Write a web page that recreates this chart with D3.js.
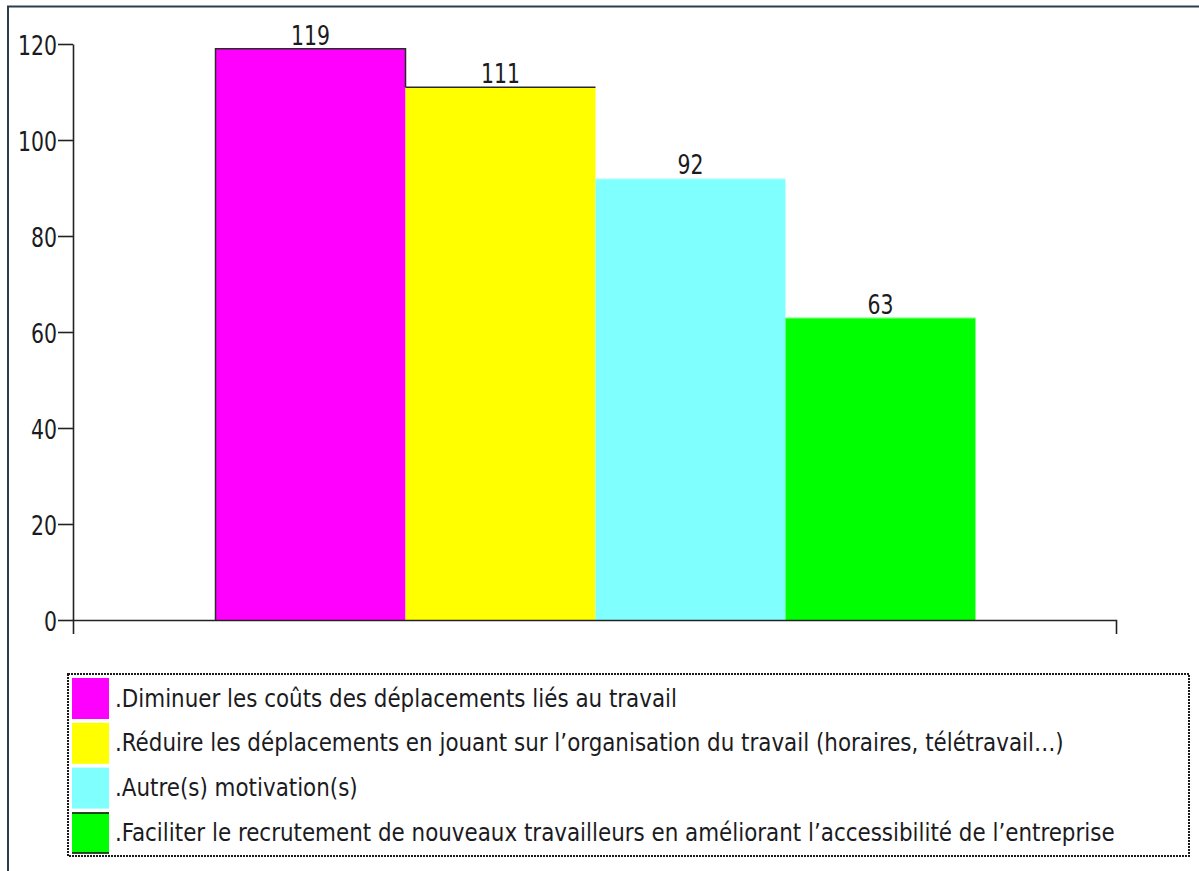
<!DOCTYPE html>
<html><head><meta charset="utf-8">
<script src="https://cdn.jsdelivr.net/npm/d3@7"></script>
<style>
body{margin:0;background:#fff}
svg{display:block}
text{font-family:"DejaVu Sans",Tahoma,Verdana,sans-serif;font-stretch:condensed;fill:#1b1b22}
</style>
</head><body>
<svg id="c" width="1199" height="871"></svg>
<script>
// ---- data ----
const categories = ["Motivations"];
const seriesNames = [
  ".Diminuer les coûts des déplacements liés au travail",
  ".Réduire les déplacements en jouant sur l’organisation du travail (horaires, télétravail…)",
  ".Autre(s) motivation(s)",
  ".Faciliter le recrutement de nouveaux travailleurs en améliorant l’accessibilité de l’entreprise"
];
const seriesValues = [119, 111, 92, 63];
const yTicks = [0, 20, 40, 60, 80, 100, 120];
const seriesColors = ["#ff00ff", "#ffff00", "#80ffff", "#00ff00"];

// ---- layout ----
const svg = d3.select("#c");
const L = 73, R = 1116, T = 44, B = 620;

// outer frame
svg.append("rect").attr("x", 8).attr("y", 6.5).attr("width", 1400).attr("height", 1000)
  .attr("fill", "none").attr("stroke", "#2c3e4c").attr("stroke-width", 2);

const y = d3.scaleLinear().domain([0, 120]).range([B, T]);
const x0 = d3.scaleBand().domain(categories).range([L + 1, R + 1]).paddingInner(0).paddingOuter(0.1862);
const x1 = d3.scaleBand().domain(seriesNames).range([0, x0.bandwidth()]).padding(0);
const color = d3.scaleOrdinal().domain(seriesNames).range(seriesColors);

const bars = seriesNames.map((s, i) => ({name: s, value: seriesValues[i], cat: categories[0]}));

// bars
const g = svg.append("g");
g.selectAll("rect.bar").data(bars).join("rect").attr("class", "bar")
  .attr("x", d => x0(d.cat) + x1(d.name))
  .attr("y", d => y(d.value))
  .attr("width", x1.bandwidth())
  .attr("height", d => B - y(d.value))
  .attr("fill", d => color(d.name));

// edges of the first two bars (dark outline), lighter top for the others
bars.forEach((d, i) => {
  const bx = x0(d.cat) + x1(d.name), bw = x1.bandwidth(), by = y(d.value);
  if (i === 0) {
    g.append("path").attr("d", `M${bx},${B} V${by} H${bx + bw} V${y(bars[1].value)}`)
      .attr("fill", "none").attr("stroke", "#2a2a2a").attr("stroke-width", 1.5);
  } else if (i === 1) {
    g.append("path").attr("d", `M${bx},${by} H${bx + bw}`)
      .attr("fill", "none").attr("stroke", "#2a2a2a").attr("stroke-width", 1.5);
  } else {
    g.append("path").attr("d", `M${bx},${by + 0.5} H${bx + bw}`)
      .attr("fill", "none").attr("stroke", "#ffffff").attr("stroke-opacity", 0.5).attr("stroke-width", 1);
  }
});

// axes
const yAxis = svg.append("g").attr("transform", `translate(${L},0)`)
  .call(d3.axisLeft(y).tickValues(yTicks).tickSize(15).tickSizeOuter(0).tickPadding(1));
const xLin = d3.scaleLinear().range([L, R]);
const xAxis = svg.append("g").attr("transform", `translate(0,${B})`)
  .call(d3.axisBottom(xLin).tickValues([]).tickSizeOuter(14));
[yAxis, xAxis].forEach(a => {
  a.select(".domain").attr("stroke", "#222").attr("stroke-width", 1.6);
  a.selectAll(".tick line").attr("stroke", "#222").attr("stroke-width", 1.6);
});

// number text fitting
function fitScale(sample, size, target) {
  const t = svg.append("text").attr("font-size", size).text(sample);
  const w = t.node().getComputedTextLength();
  t.remove();
  return target / w;
}
const numSize = 26;
const numScale = fitScale("120", numSize, 39);

yAxis.selectAll(".tick text")
  .attr("font-size", numSize).attr("font-family", null)
  .attr("x", 0).attr("dy", "0.41em")
  .attr("transform", `translate(-16,0) scale(${numScale},1)`)
  .style("fill", "#1b1b22");

// value labels
svg.append("g").selectAll("text").data(bars).join("text")
  .attr("font-size", numSize).attr("text-anchor", "middle")
  .attr("transform", d => `translate(${x0(d.cat) + x1(d.name) + x1.bandwidth() / 2},${y(d.value) - 4}) scale(${numScale},1)`)
  .text(d => d.value);

// legend
const lg = svg.append("g");
lg.append("rect").attr("x", 68).attr("y", 674).attr("width", 1121).attr("height", 182)
  .attr("fill", "none").attr("stroke", "#1a1a1a").attr("stroke-width", 2).attr("stroke-dasharray", "2,1");
const legSize = 24;
const legScale = fitScale(seriesNames[3], legSize, 1000);
const rowStep = 44.8, row0 = 678;
const items = lg.selectAll("g.item").data(seriesNames).join("g").attr("class", "item")
  .attr("transform", (d, i) => `translate(0,${row0 + i * rowStep})`);
items.append("rect").attr("x", 72).attr("y", 0).attr("width", 37).attr("height", 41)
  .attr("fill", d => color(d));
items.filter((d, i) => i === 3).each(function () {
  const s = d3.select(this);
  s.append("path").attr("d", "M72,0.5 H109 M72,40.5 H109").attr("stroke", "#111").attr("stroke-width", 1.5);
});
items.append("text").attr("font-size", legSize)
  .attr("transform", `translate(115,28.5) scale(${legScale},1)`)
  .text(d => d);
</script>
</body></html>
